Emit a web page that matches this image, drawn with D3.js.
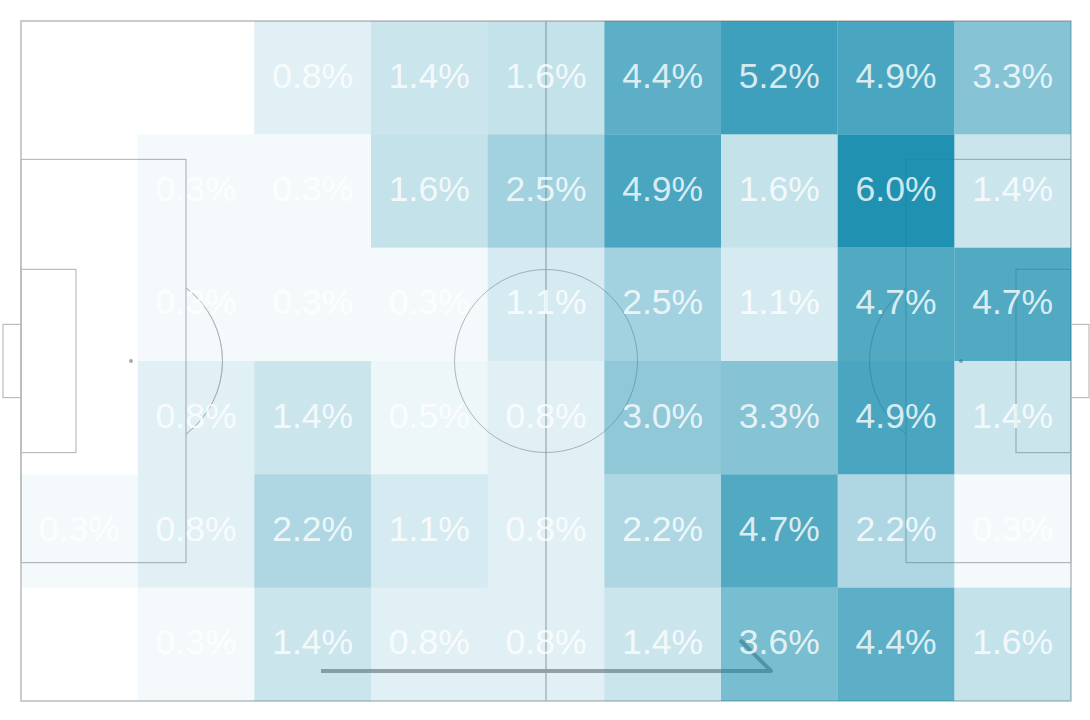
<!DOCTYPE html>
<html>
<head>
<meta charset="utf-8">
<script src="https://cdn.jsdelivr.net/npm/d3@7"></script>
<style>
  html, body { margin: 0; padding: 0; background: #fff; }
  svg { display: block; }
</style>
</head>
<body>
<div id="chart"></div>
<script>
const columns = [0, 1, 2, 3, 4, 5, 6, 7, 8];
const rows = [0, 1, 2, 3, 4, 5];

// share of actions per zone, top row first
const row0 = [0, 0, 0.8, 1.4, 1.6, 4.4, 5.2, 4.9, 3.3];
const row1 = [0, 0.3, 0.3, 1.6, 2.5, 4.9, 1.6, 6.0, 1.4];
const row2 = [0, 0.3, 0.3, 0.3, 1.1, 2.5, 1.1, 4.7, 4.7];
const row3 = [0, 0.8, 1.4, 0.5, 0.8, 3.0, 3.3, 4.9, 1.4];
const row4 = [0.3, 0.8, 2.2, 1.1, 0.8, 2.2, 4.7, 2.2, 0.3];
const row5 = [0, 0.3, 1.4, 0.8, 0.8, 1.4, 3.6, 4.4, 1.6];
const zoneValues = [row0, row1, row2, row3, row4, row5];

// pitch size in metres
const pitchLength = 105;
const pitchWidth = 68;
const boxDepth = 16.5;
const boxWidth = 40.32;
const sixDepth = 5.5;
const sixWidth = 18.32;
const goalDepth = 1.8;
const goalWidth = 7.32;
const spotDistance = 11;
const circleRadius = 9.15;

const width = 1090,
  height = 720;

const svg = d3
  .select("#chart")
  .append("svg")
  .attr("width", width)
  .attr("height", height);

const x = d3.scaleLinear().domain([0, pitchLength]).range([21, 1071]);
const y = d3.scaleLinear().domain([0, pitchWidth]).range([21, 701]);
const col = d3.scaleBand().domain(columns).range([21, 1071]);
const row = d3.scaleBand().domain(rows).range([21, 701]);
const alpha = d3.scaleLinear().domain([0, 6]).range([0, 0.9]);

const cells = [];
rows.forEach((r) => {
  columns.forEach((c) => {
    cells.push({ r: r, c: c, value: zoneValues[r][c] });
  });
});

// Pitch lines go under the cells, the cells tint them
const lines = svg
  .append("g")
  .attr("fill", "none")
  .attr("stroke", "#bcbcbc");

function pitchRect(mx, my, mw, mh, sw) {
  lines
    .append("rect")
    .attr("x", x(mx))
    .attr("y", y(my))
    .attr("width", x(mx + mw) - x(mx))
    .attr("height", y(my + mh) - y(my))
    .attr("stroke-width", sw);
}

const midY = pitchWidth / 2;
pitchRect(0, 0, pitchLength, pitchWidth, 1.5);
pitchRect(0, midY - boxWidth / 2, boxDepth, boxWidth, 1.2);
pitchRect(pitchLength - boxDepth, midY - boxWidth / 2, boxDepth, boxWidth, 1.2);
pitchRect(0, midY - sixWidth / 2, sixDepth, sixWidth, 1.2);
pitchRect(pitchLength - sixDepth, midY - sixWidth / 2, sixDepth, sixWidth, 1.2);
pitchRect(-goalDepth, midY - goalWidth / 2, goalDepth, goalWidth, 1.2);
pitchRect(pitchLength, midY - goalWidth / 2, goalDepth, goalWidth, 1.2);

// Halfway line
lines
  .append("line")
  .attr("x1", x(pitchLength / 2))
  .attr("x2", x(pitchLength / 2))
  .attr("y1", y(0))
  .attr("y2", y(pitchWidth))
  .attr("stroke-width", 1.5);

// Centre circle
const radiusPx = x(circleRadius) - x(0);
lines
  .append("circle")
  .attr("cx", x(pitchLength / 2))
  .attr("cy", y(midY))
  .attr("r", radiusPx)
  .attr("stroke", "#a8a8a8")
  .attr("stroke-width", 0.8);

// Penalty arcs, only the part outside the box
const arcAngle = Math.acos((boxDepth - spotDistance) / circleRadius);
const arc = d3
  .arc()
  .innerRadius(radiusPx)
  .outerRadius(radiusPx);

[
  { spot: spotDistance, start: Math.PI / 2 - arcAngle, end: Math.PI / 2 + arcAngle },
  { spot: pitchLength - spotDistance, start: -Math.PI / 2 - arcAngle, end: -Math.PI / 2 + arcAngle },
].forEach((d) => {
  lines
    .append("path")
    .attr("transform", `translate(${x(d.spot)},${y(midY)})`)
    .attr("d", arc({ startAngle: d.start, endAngle: d.end }))
    .attr("stroke", "#b4b4b4")
    .attr("stroke-width", 0.8);

  svg
    .append("circle")
    .attr("cx", x(d.spot))
    .attr("cy", y(midY))
    .attr("r", 2)
    .attr("fill", "#aaa");
});

// Attack direction arrow (metres on the pitch)
const arrowPath = [
  [30, 65],
  [75, 65],
  [71.9, 61.9],
];
svg
  .append("path")
  .attr("d", d3.line().x((d) => x(d[0])).y((d) => y(d[1]))(arrowPath))
  .attr("fill", "none")
  .attr("stroke", "#a6a6a6")
  .attr("stroke-linejoin", "round")
  .attr("stroke-width", 4);

// Heat cells
svg
  .append("g")
  .selectAll("rect")
  .data(cells)
  .join("rect")
  .attr("x", (d) => col(d.c))
  .attr("y", (d) => row(d.r))
  .attr("width", col.bandwidth())
  .attr("height", row.bandwidth())
  .attr("fill", "#0885a9")
  .attr("fill-opacity", (d) => alpha(d.value));

// Zone labels
svg
  .append("g")
  .selectAll("text")
  .data(cells.filter((d) => d.value > 0))
  .join("text")
  .attr("x", (d) => col(d.c) + col.bandwidth() / 2)
  .attr("y", (d) => row(d.r) + row.bandwidth() / 2 + 10)
  .attr("text-anchor", "middle")
  .attr("font-family", "'Liberation Sans', Arial, sans-serif")
  .attr("font-size", 35.5)
  .attr("fill", "#fff")
  .attr("fill-opacity", 0.8)
  .text((d) => d.value.toFixed(1) + "%");
</script>
</body>
</html>
